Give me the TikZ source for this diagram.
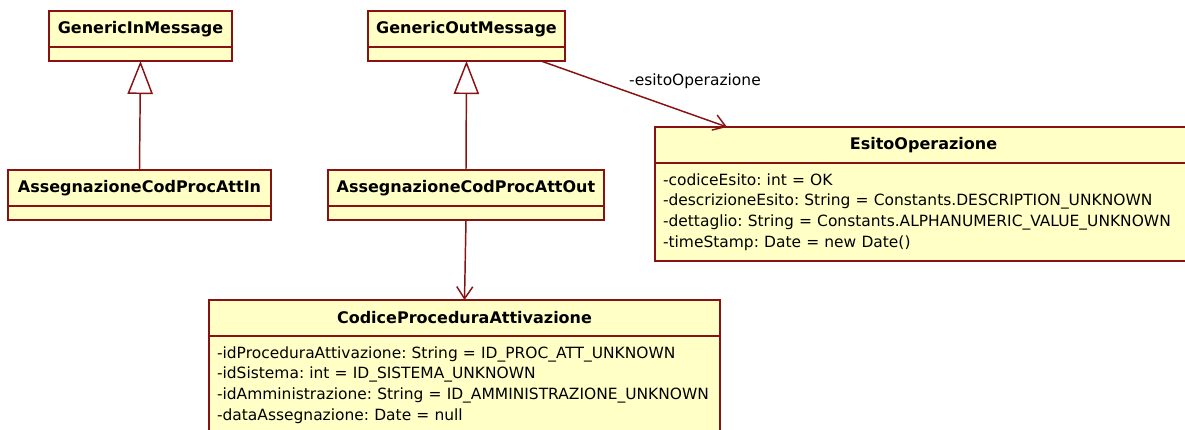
\documentclass[tikz,border=0pt]{standalone}
\usepackage{fontspec}
\setmainfont{DejaVu Sans}
\usetikzlibrary{arrows.meta,calc}
\frenchspacing

\definecolor{umlfill}{RGB}{255,255,198}
\definecolor{umlline}{RGB}{136,18,18}
\newcommand{\classfont}{\fontsize{12}{14}\selectfont\bfseries}
\newcommand{\fieldfont}{\fontsize{11.6}{15.4}\selectfont}

\begin{document}
\begin{tikzpicture}[x=0.75pt, y=-0.75pt, line width=1.1pt,
		classname/.style={draw=umlline, fill=umlfill, anchor=north west, minimum width=#1, minimum height=27pt, inner sep=0pt, outer sep=0pt, font=\classfont},
		noattr/.style={draw=umlline, fill=umlfill, anchor=north, minimum width=#1, minimum height=10.5pt, inner sep=0pt, outer sep=0pt},
		classattr/.style={draw=umlline, fill=umlfill, anchor=north, text width=#1, inner xsep=6pt, inner ysep=8pt, outer sep=0pt, align=left, font=\fieldfont},
		generalization/.style={draw=umlline, -{Triangle[open, length=24.75pt, width=19pt, fill=white]}},
		association/.style={draw=umlline, -{Straight Barb[length=9pt, width=12pt]}}]
		\useasboundingbox (0,0) rectangle (1185,429);
		
		%message base classes
		\node[classname=137.25pt] (gin) at (49,11) {GenericInMessage};
		\node[noattr=137.25pt] (gin-attr) at (gin.south) {};
		\node[classname=147.75pt] (gout) at (368,11) {GenericOutMessage};
		\node[noattr=147.75pt] (gout-attr) at (gout.south) {};
		
		%subclasses
		\node[classname=197.25pt] (ain) at (8,170) {AssegnazioneCodProcAttIn};
		\node[noattr=197.25pt] (ain-attr) at (ain.south) {};
		\node[classname=207pt] (aout) at (328,170) {AssegnazioneCodProcAttOut};
		\node[noattr=207pt] (aout-attr) at (aout.south) {};
		
		%esito
		\node[classname=402.75pt] (esito) at (655,127) {EsitoOperazione};
		\node[classattr=390.75pt] (esito-attr) at (esito.south) {-codiceEsito: int = OK\\
			-descrizioneEsito: String = Constants.DESCRIPTION\_UNKNOWN\\
			-dettaglio: String = Constants.ALPHANUMERIC\_VALUE\_UNKNOWN\\
			-timeStamp: Date = new Date()};
		
		%codice procedura
		\node[classname=383.25pt] (codice) at (209,300) {CodiceProceduraAttivazione};
		\node[classattr=371.25pt] (codice-attr) at (codice.south) {-idProceduraAttivazione: String = ID\_PROC\_ATT\_UNKNOWN\\
			-idSistema: int = ID\_SISTEMA\_UNKNOWN\\
			-idAmministrazione: String = ID\_AMMINISTRAZIONE\_UNKNOWN\\
			-dataAssegnazione: Date = null};
		
		%inheritance
		\draw[generalization] (ain.north) -- (gin-attr.south);
		\draw[generalization] (aout.north) -- (gout-attr.south);
		
		%associations
		\draw[association] (aout-attr.south) -- (codice.north);
		\draw[association] ($(gout-attr.south east)+(-24,0)$) -- ($(esito.north west)+(72,0)$);
		\node[font=\fieldfont] (role) at (695,81) {-esitoOperazione};
\end{tikzpicture}
\end{document}
